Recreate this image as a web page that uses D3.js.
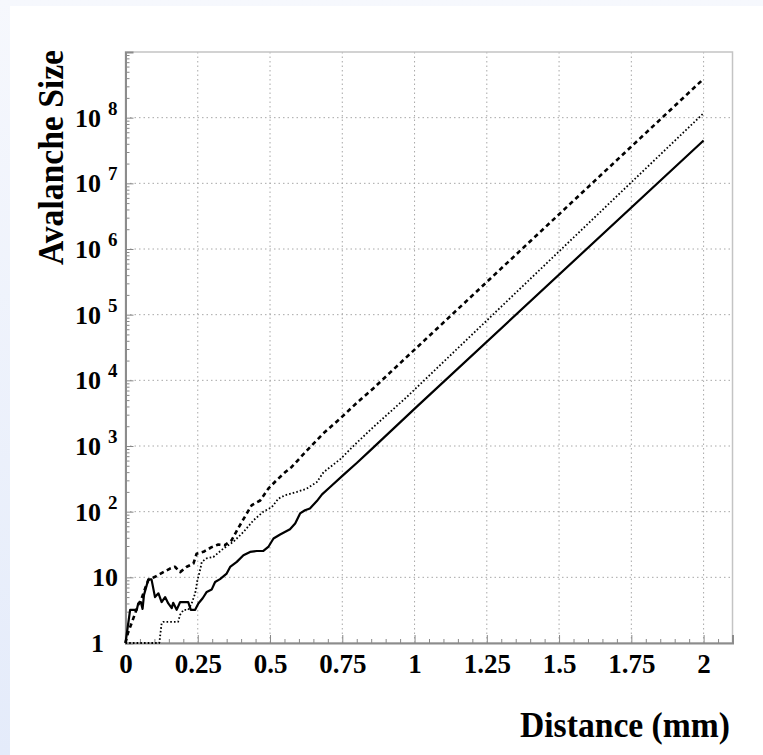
<!DOCTYPE html>
<html>
<head>
<meta charset="utf-8">
<script src="https://cdn.jsdelivr.net/npm/d3@7"></script>
<style>
body { margin: 0; background: #fff; }
svg text { font-family: "Liberation Serif", "Times New Roman", serif; font-weight: bold; fill: #000; }
</style>
</head>
<body>
<svg id="chart" width="763" height="755"></svg>
<script>
// distance (mm) and avalanche size
const solidX = [0, 0.016, 0.039, 0.044, 0.053, 0.059, 0.064, 0.079, 0.090, 0.102, 0.114, 0.125, 0.137, 0.148, 0.160, 0.165, 0.177, 0.189, 0.217, 0.226, 0.241, 0.252, 0.267, 0.281, 0.298, 0.310, 0.327, 0.350, 0.362, 0.385, 0.408, 0.431, 0.454, 0.477, 0.494, 0.512, 0.535, 0.569, 0.587, 0.604, 0.621, 0.638, 0.662, 0.680, 0.708, 0.754, 0.800, 0.846, 0.892, 0.950, 1.008, 2.0];
const solidY = [1, 3.2, 3.2, 4.0, 4.2, 3.3, 5.4, 9.3, 9.3, 5.0, 5.7, 4.2, 5.0, 4.0, 3.4, 4.1, 3.2, 4.2, 4.2, 3.2, 3.2, 4.0, 4.8, 6.0, 6.5, 8.5, 9.4, 11.4, 14.4, 17.2, 21.7, 24.4, 25.2, 25.2, 29, 39, 45, 54, 66, 94, 105, 112, 145, 183, 237, 363, 550, 850, 1320, 2290, 3980, 4.5e7];

const dashedX = [0, 0.008, 0.021, 0.033, 0.044, 0.056, 0.068, 0.079, 0.102, 0.131, 0.154, 0.171, 0.189, 0.212, 0.235, 0.246, 0.270, 0.298, 0.321, 0.344, 0.367, 0.389, 0.419, 0.437, 0.466, 0.494, 0.523, 0.552, 0.575, 0.627, 0.684, 0.743, 0.801, 0.858, 0.916, 2.0];
const dashedY = [1, 1.4, 2.0, 2.8, 3.8, 4.8, 6.8, 9.1, 10.2, 12, 13.6, 14.5, 12, 14.5, 16.2, 22.9, 24.5, 28.8, 31.6, 30.9, 36.7, 55, 93, 126, 148, 224, 302, 398, 480, 850, 1550, 2630, 4570, 7590, 13200, 3.9e8];

const dottedX = [0, 0.117, 0.125, 0.130, 0.182, 0.189, 0.201, 0.217, 0.229, 0.241, 0.249, 0.258, 0.264, 0.281, 0.304, 0.339, 0.373, 0.408, 0.443, 0.477, 0.506, 0.529, 0.552, 0.593, 0.627, 0.662, 0.685, 0.743, 0.800, 0.858, 0.916, 0.974, 1.031, 2.0];
const dottedY = [1, 1, 2.0, 2.1, 2.1, 2.7, 3.2, 3.2, 4.0, 5.7, 9.1, 12.9, 17.2, 19.5, 20.4, 27.5, 34.7, 49, 74, 100, 117, 158, 178, 200, 224, 282, 398, 630, 1120, 1950, 3310, 5620, 9770, 1.17e8];

const xTickValues = [0, 0.25, 0.5, 0.75, 1, 1.25, 1.5, 1.75, 2];
const xTickLabels = ["0", "0.25", "0.5", "0.75", "1", "1.25", "1.5", "1.75", "2"];
const yDecades = [0, 1, 2, 3, 4, 5, 6, 7, 8];

const svg = d3.select("#chart");

// light page edge around the white panel
const grad = svg.append("defs").append("linearGradient")
    .attr("id", "edge").attr("x1", 0).attr("y1", 0).attr("x2", 0).attr("y2", 1);
grad.append("stop").attr("offset", "0%").attr("stop-color", "#f6f8fd");
grad.append("stop").attr("offset", "100%").attr("stop-color", "#e4ebfa");
svg.append("rect").attr("width", 763).attr("height", 755).attr("fill", "url(#edge)");
svg.append("rect").attr("x", 10).attr("y", 6).attr("width", 753).attr("height", 749).attr("fill", "#fff");

const x = d3.scaleLinear().domain([0, 2.1]).range([125.5, 732.5]);
const y = d3.scaleLog().domain([1, 1e9]).range([643, 52]);

// grid
svg.append("g").selectAll("line")
    .data(xTickValues.slice(1))
    .enter().append("line")
    .attr("x1", d => x(d)).attr("x2", d => x(d))
    .attr("y1", y(1)).attr("y2", y(1e9))
    .attr("stroke", "#a8a8a8").attr("stroke-width", 1).attr("stroke-dasharray", "1.5,3");

svg.append("g").selectAll("line")
    .data(yDecades.slice(1))
    .enter().append("line")
    .attr("x1", x(0)).attr("x2", x(2.1))
    .attr("y1", d => y(Math.pow(10, d))).attr("y2", d => y(Math.pow(10, d)))
    .attr("stroke", "#a8a8a8").attr("stroke-width", 1).attr("stroke-dasharray", "1.5,3");

// frame
svg.append("rect")
    .attr("x", x(0)).attr("y", y(1e9))
    .attr("width", x(2.1) - x(0)).attr("height", y(1) - y(1e9))
    .attr("fill", "none").attr("stroke", "#c4c4c4").attr("stroke-width", 1.5);

// x axis: minor ticks every 0.05, major every 0.25
const xMinor = d3.range(0, 2.1001, 0.05).filter(v => Math.abs(v / 0.25 - Math.round(v / 0.25)) > 1e-6);
svg.append("g")
    .attr("transform", `translate(0,${y(1)})`)
    .call(d3.axisBottom(x).tickValues(xMinor).tickSize(-4).tickFormat(""))
    .call(g => g.select(".domain").remove())
    .selectAll("line").attr("stroke", "#888");

const xAxis = svg.append("g")
    .attr("transform", `translate(0,${y(1)})`)
    .call(d3.axisBottom(x).tickValues(xTickValues).tickSize(-8).tickPadding(11)
        .tickFormat((d, i) => xTickLabels[i]));
xAxis.select(".domain").attr("stroke", "#8c8c8c").attr("stroke-width", 2);
xAxis.selectAll("line").attr("stroke", "#888");
xAxis.selectAll("text").attr("font-size", 27).attr("fill", "#000")
    .attr("font-family", "'Liberation Serif', serif").attr("font-weight", "bold");

// y axis: log ticks
const yMinor = [];
yDecades.forEach(e => { for (let k = 2; k <= 9; k++) yMinor.push(k * Math.pow(10, e)); });
svg.append("g")
    .attr("transform", `translate(${x(0)},0)`)
    .call(d3.axisLeft(y).tickValues(yMinor).tickSize(-4).tickFormat(""))
    .call(g => g.select(".domain").remove())
    .selectAll("line").attr("stroke", "#888");

const yAxis = svg.append("g")
    .attr("transform", `translate(${x(0)},0)`)
    .call(d3.axisLeft(y).tickValues(yDecades.map(e => Math.pow(10, e))).tickSize(-8).tickFormat(""));
yAxis.select(".domain").attr("stroke", "#8c8c8c").attr("stroke-width", 2);
yAxis.selectAll("line").attr("stroke", "#888");

// y labels: 1, 10, then 10 with exponent
const yLab = svg.append("g");
yDecades.forEach(e => {
    const py = y(Math.pow(10, e));
    if (e === 0) {
        yLab.append("text").attr("x", 104).attr("y", py + 9)
            .attr("text-anchor", "end").attr("font-size", 26).text("1");
    } else if (e === 1) {
        yLab.append("text").attr("x", 118).attr("y", py + 9)
            .attr("text-anchor", "end").attr("font-size", 26).text("10");
    } else {
        yLab.append("text").attr("x", 101).attr("y", py + 9)
            .attr("text-anchor", "end").attr("font-size", 26).text("10");
        yLab.append("text").attr("x", 108).attr("y", py - 3)
            .attr("font-size", 19).text(e);
    }
});

// curves
const line = d3.line().x(d => x(d[0])).y(d => y(d[1]));
const series = [
    { xs: solidX, ys: solidY, dash: null, w: 2.2 },
    { xs: dashedX, ys: dashedY, dash: "4.5,3.5", w: 2.6 },
    { xs: dottedX, ys: dottedY, dash: "1.6,2.1", w: 1.8 }
];
series.forEach(s => {
    svg.append("path")
        .datum(s.xs.map((v, i) => [v, s.ys[i]]))
        .attr("d", line)
        .attr("fill", "none")
        .attr("stroke", "#000")
        .attr("stroke-width", s.w)
        .attr("stroke-linejoin", "round")
        .attr("stroke-dasharray", s.dash);
});

// axis titles
svg.append("text")
    .attr("x", 730).attr("y", 737)
    .attr("text-anchor", "end")
    .attr("font-size", 36)
    .attr("textLength", 210).attr("lengthAdjust", "spacingAndGlyphs")
    .text("Distance (mm)");

svg.append("text")
    .attr("transform", "translate(63,50) rotate(-90)")
    .attr("text-anchor", "end")
    .attr("font-size", 36)
    .attr("textLength", 215).attr("lengthAdjust", "spacingAndGlyphs")
    .text("Avalanche Size");
</script>
</body>
</html>
